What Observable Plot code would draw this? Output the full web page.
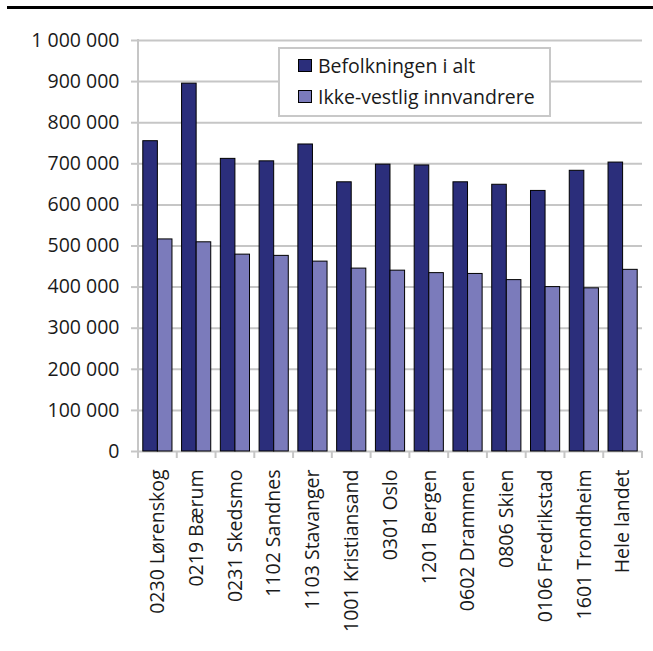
<!DOCTYPE html>
<html>
<head>
<meta charset="utf-8">
<script src="https://cdn.jsdelivr.net/npm/d3@7"></script>
<script src="https://cdn.jsdelivr.net/npm/@observablehq/plot@0.6"></script>
<style>
  body { margin: 0; background: #fff; font-family: "Open Sans", sans-serif; }
  #wrap { position: relative; width: 653px; height: 651px; }
  #rule { position: absolute; left: 7px; right: 0; top: 6px; height: 3px; background: #000; }
  #legend { position: absolute; left: 278px; top: 47px; width: 269px; height: 66px;
            border: 2px solid #c8c8c8; background: #fff; font-size: 19.5px; color: #1a1a1a; }
  .item { position: absolute; left: 18px; height: 26px; display: flex; align-items: center; white-space: nowrap; }
  .sw { width: 12px; height: 11px; border: 1px solid #000; margin-right: 6px; }
</style>
</head>
<body>
<div id="wrap">
  <div id="chart"></div>
  <div id="rule"></div>
  <div id="legend"></div>
</div>
<script>
const categories = [
  "0230 Lørenskog", "0219 Bærum", "0231 Skedsmo", "1102 Sandnes", "1103 Stavanger",
  "1001 Kristiansand", "0301 Oslo", "1201 Bergen", "0602 Drammen", "0806 Skien",
  "0106 Fredrikstad", "1601 Trondheim", "Hele landet"
];
const befolkning = [755000, 895000, 712000, 706000, 747000, 655000, 698000, 696000, 655000, 649000, 634000, 683000, 703000];
const ikkeVestlig = [516000, 509000, 479000, 476000, 462000, 445000, 440000, 434000, 432000, 417000, 400000, 397000, 442000];
const seriesNames = ["Befolkningen i alt", "Ikke-vestlig innvandrere"];
const seriesColors = ["#2b2e7b", "#7b7bbb"];
const yTicks = [0, 100000, 200000, 300000, 400000, 500000, 600000, 700000, 800000, 900000, 1000000];

const data = categories.map((c, i) => ({category: c, befolkning: befolkning[i], ikkeVestlig: ikkeVestlig[i]}));
const fmt = v => d3.format(",")(v).replace(/,/g, " ");
const gridColor = "#c6c6c6";

function boundaryTicks(index, scales) {
  const x = scales.x, y = scales.y;
  const y0 = y(0);
  const bw = typeof x.bandwidth === "function" ? x.bandwidth() : x.bandwidth;
  const xs = categories.map(c => x(c));
  xs.push(xs[xs.length - 1] + bw);
  const g = d3.create("svg:g").attr("stroke", gridColor).attr("stroke-width", 2);
  for (const px of xs) {
    g.append("line").attr("x1", px).attr("x2", px).attr("y1", y0).attr("y2", y0 + 7);
  }
  g.append("line").attr("x1", xs[0]).attr("x2", xs[0]).attr("y1", y(yTicks[yTicks.length - 1]) - 1).attr("y2", y0 + 1);
  return g.node();
}

const chart = Plot.plot({
  width: 653,
  height: 651,
  marginLeft: 138,
  marginRight: 11,
  marginTop: 40,
  marginBottom: 200,
  style: {fontFamily: "Open Sans, sans-serif", fontSize: "19.5px", color: "#1a1a1a", background: "transparent"},
  x: {domain: categories, padding: 0, round: false, label: null},
  y: {domain: [0, 1000000], label: null},
  marks: [
    Plot.gridY(yTicks, {stroke: gridColor, strokeOpacity: 1, strokeWidth: 2}),
    Plot.barY(data, {x: "category", y: "befolkning", fill: seriesColors[0], stroke: "#000", strokeWidth: 1, insetLeft: 4.8, insetRight: 19.4}),
    Plot.barY(data, {x: "category", y: "ikkeVestlig", fill: seriesColors[1], stroke: "#000", strokeWidth: 1, insetLeft: 19.4, insetRight: 4.8}),
    Plot.axisY({ticks: yTicks, tickFormat: fmt, tickSize: 7, tickPadding: 12, stroke: gridColor, strokeWidth: 2, fill: "#1a1a1a", label: null}),
    Plot.axisX({tickSize: 0, tickRotate: -90, tickPadding: 18, fill: "#1a1a1a", label: null}),
    boundaryTicks
  ]
});
document.getElementById("chart").appendChild(chart);

const legend = document.getElementById("legend");
const tops = [3, 34];
seriesNames.forEach((name, i) => {
  const item = document.createElement("div");
  item.className = "item";
  item.style.top = tops[i] + "px";
  const sw = document.createElement("div");
  sw.className = "sw";
  sw.style.background = seriesColors[i];
  const t = document.createElement("span");
  t.textContent = name;
  item.appendChild(sw);
  item.appendChild(t);
  legend.appendChild(item);
});
</script>
</body>
</html>
